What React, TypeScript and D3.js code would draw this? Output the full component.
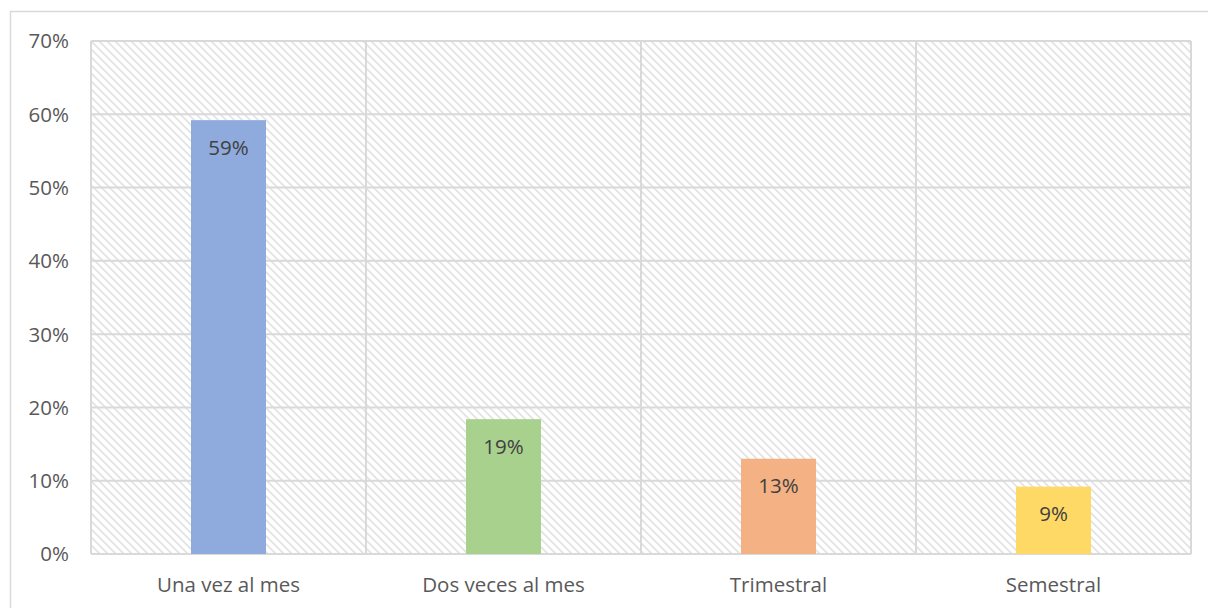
import React from "react";
import * as d3 from "d3";

const categories = ["Una vez al mes", "Dos veces al mes", "Trimestral", "Semestral"];
const values = [0.592, 0.184, 0.13, 0.092];
const labels = ["59%", "19%", "13%", "9%"];
const colors = ["#8FAADC", "#A9D18E", "#F4B183", "#FFD966"];
const yTicks = [0, 0.1, 0.2, 0.3, 0.4, 0.5, 0.6, 0.7];

export default function App() {
  const W = 1208, H = 608;
  const left = 91, right = 1191, top = 41, bottom = 554;
  const x = d3.scaleBand<string>().domain(categories).range([left, right]).paddingInner(0).paddingOuter(0);
  const y = d3.scaleLinear().domain([0, 0.7]).range([bottom, top]);
  const barW = 75;
  const font = "'Open Sans', Lato, 'Liberation Sans', sans-serif";
  const fs = 20.5;
  return (
    <svg width={W} height={H} style={{ position: "absolute", left: 0, top: 0 }}>
      <defs>
        <pattern id="hatch" width={8} height={8} patternUnits="userSpaceOnUse" x={left} y={top}>
          <rect width={8} height={8} fill="#ffffff" />
          <path d="M-2,-2 L10,10 M-2,6 L2,10 M6,-2 L10,2" stroke="#e3e3e3" strokeWidth={1.8} />
        </pattern>
      </defs>
      <rect x={0} y={0} width={W} height={H} fill="#ffffff" />
      <rect x={10.5} y={11.5} width={1220} height={620} fill="#ffffff" stroke="#d9d9d9" strokeWidth={1.5} />
      <rect x={left} y={top} width={right - left} height={bottom - top} fill="url(#hatch)" />
      {yTicks.map((t) => (
        <line key={"g" + t} x1={left} x2={right} y1={y(t)} y2={y(t)} stroke="#d9d9d9" strokeWidth={2} />
      ))}
      {[...categories.map((c) => x(c)!), right].map((px, i) => (
        <line key={"v" + i} x1={px} x2={px} y1={top} y2={bottom} stroke="#d9d9d9" strokeWidth={2} />
      ))}
      {yTicks.map((t) => (
        <text key={"t" + t} x={69} y={y(t)} dy="0.36em" textAnchor="end" fontFamily={font} fontSize={fs} fill="#595959">
          {Math.round(t * 100) + "%"}
        </text>
      ))}
      {categories.map((c, i) => {
        const cx = x(c)! + x.bandwidth() / 2;
        return (
          <g key={c}>
            <rect x={cx - barW / 2} y={y(values[i])} width={barW} height={bottom - y(values[i])} fill={colors[i]} />
            <text x={cx} y={y(values[i]) + 27} dy="0.36em" textAnchor="middle" fontFamily={font} fontSize={fs} fill="#404040">
              {labels[i]}
            </text>
            <text x={cx} y={585} dy="0.36em" textAnchor="middle" fontFamily={font} fontSize={fs} fill="#595959">
              {c}
            </text>
          </g>
        );
      })}
    </svg>
  );
}
